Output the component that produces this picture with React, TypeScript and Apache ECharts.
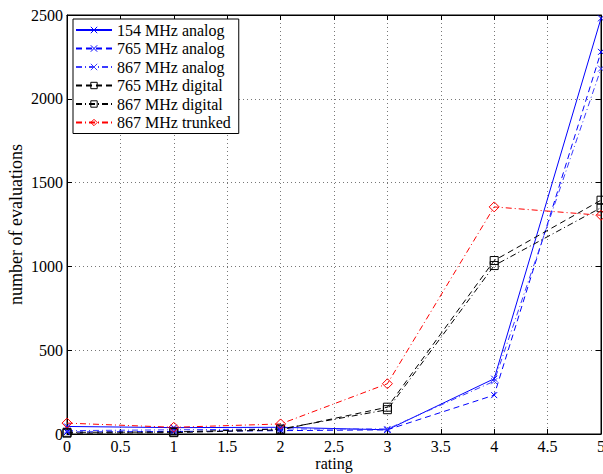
import React, { useEffect, useRef } from "react";
import * as echarts from "echarts";

const ratings = [0, 1, 2, 3, 4, 5];
const s154Analog = [45, 38, 40, 25, 330, 2480];
const s765Analog = [12, 15, 20, 25, 232, 2280];
const s867Analog = [20, 25, 30, 30, 315, 2180];
const s765Digital = [5, 8, 25, 160, 1035, 1395];
const s867Digital = [10, 12, 30, 145, 1005, 1350];
const s867Trunked = [65, 40, 60, 300, 1355, 1305];

const xTicks = { min: 0, max: 5, interval: 0.5 };
const yTicks = { min: 0, max: 2500, interval: 500 };

const FONT = "Liberation Serif";
const CROSS = "path://M0,0L10,10M10,0L0,10";

function pts(vals: number[]) {
  return vals.map((v, i) => [ratings[i], v]);
}

export default function App() {
  const ref = useRef<HTMLDivElement>(null);
  useEffect(() => {
    const chart = echarts.init(ref.current!, null, { renderer: "svg" });
    const CLEAR = "rgba(255,255,255,0)";
    const mk = (
      name: string,
      vals: number[],
      color: string,
      dash: any,
      symbol: string,
      size: number
    ) => ({
      name,
      type: "line",
      data: pts(vals),
      symbol,
      symbolSize: size,
      showAllSymbol: true,
      lineStyle: { color, width: 1, type: dash },
      itemStyle: { color: CLEAR, borderColor: color, borderWidth: 1 },
      emphasis: { disabled: true },
    });
    const axisCommon = {
      axisLine: { show: true, onZero: false, lineStyle: { color: "#000", width: 1 } },
      axisTick: { show: true, inside: true, length: 5, lineStyle: { color: "#000" } },
    };
    const legendNames = [
      ["154 MHz analog", "#0000ff"],
      ["765 MHz analog", "#0000ff"],
      ["867 MHz analog", "#3b3bff"],
      ["765 MHz digital", "#000000"],
      ["867 MHz digital", "#000000"],
      ["867 MHz trunked", "#ff0000"],
    ];
    const txt = { fontFamily: FONT, fontSize: 16, color: "#000" };
    chart.setOption({
      animation: false,
      backgroundColor: "#fff",
      textStyle: { fontFamily: FONT },
      grid: {
        left: 67,
        right: 2,
        top: 15,
        bottom: 40,
        show: true,
        borderColor: "#000",
        borderWidth: 1,
        outerBoundsMode: "none",
        containLabel: false,
      },
      legend: {
        orient: "vertical",
        left: 73,
        top: 19,
        backgroundColor: "#fff",
        borderColor: "#000",
        borderWidth: 1,
        padding: [3, 8, 3, 2],
        itemGap: 2.5,
        itemWidth: 36,
        itemHeight: 8,
        textStyle: { ...txt, lineHeight: 16 },
        data: legendNames.map(([n, c]) => ({
          name: n,
          itemStyle: { color: CLEAR, borderColor: c, borderWidth: 1 },
        })),
      },
      xAxis: [
        {
          type: "value",
          ...xTicks,
          position: "bottom",
          ...axisCommon,
          axisLabel: {
            ...txt,
            margin: 5,
            lineHeight: 14,
            formatter: (v: number) => String(v),
          },
          splitLine: {
            show: true,
            lineStyle: { color: "#777", type: [1, 3], width: 1 },
          },
          name: "rating",
          nameLocation: "middle",
          nameGap: 22,
          nameMoveOverlap: false,
          nameTextStyle: { ...txt, lineHeight: 14 },
        },
        {
          type: "value",
          ...xTicks,
          position: "top",
          ...axisCommon,
          axisLabel: { show: false },
          splitLine: { show: false },
        },
      ],
      yAxis: [
        {
          type: "value",
          ...yTicks,
          position: "left",
          ...axisCommon,
          axisLabel: {
            ...txt,
            margin: 4,
            formatter: (v: number) => String(v),
          },
          splitLine: {
            show: true,
            lineStyle: { color: "#777", type: [1, 3], width: 1 },
          },
          name: "number of evaluations",
          nameLocation: "middle",
          nameGap: 42,
          nameMoveOverlap: false,
          nameTextStyle: { ...txt, fontSize: 18 },
        },
        {
          type: "value",
          ...yTicks,
          position: "right",
          ...axisCommon,
          axisLabel: { show: false },
          splitLine: { show: false },
        },
      ],
      series: [
        mk("154 MHz analog", s154Analog, "#0000ff", "solid", CROSS, 6),
        mk("765 MHz analog", s765Analog, "#0000ff", [6, 4], CROSS, 6),
        mk("867 MHz analog", s867Analog, "#3b3bff", [6, 3, 1, 3], CROSS, 6),
        mk("765 MHz digital", s765Digital, "#000000", [6, 4], "rect", 8),
        mk("867 MHz digital", s867Digital, "#000000", [6, 3, 1, 3], "rect", 8),
        mk("867 MHz trunked", s867Trunked, "#ff0000", [6, 3, 1, 3], "diamond", 10),
      ],
    });
    return () => chart.dispose();
  }, []);
  return <div ref={ref} style={{ width: 603, height: 474, position: "absolute", left: 0, top: 0 }} />;
}
